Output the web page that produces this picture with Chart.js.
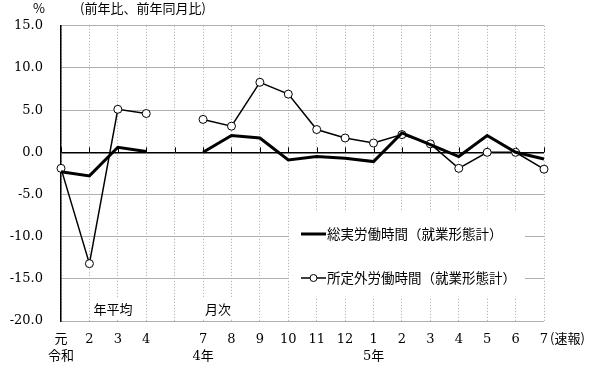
<!DOCTYPE html>
<html>
<head>
<meta charset="utf-8">
<script src="https://cdn.jsdelivr.net/npm/chart.js@4"></script>
<style>
  body { margin: 0; background: #fff; }
  #wrap { width: 591px; height: 366px; }
</style>
</head>
<body>
<div id="wrap"><canvas id="hoursChart"></canvas></div>
<script>
const categories = [['元', '令和'], '2', '3', '4', '', ['7', '4年'], '8', '9', '10', '11', '12', ['1', '5年'], '2', '3', '4', '5', '6', '7'];
const totalHours = [-2.3, -2.8, 0.6, 0.1, null, 0.0, 2.0, 1.7, -0.9, -0.5, -0.7, -1.1, 2.3, 0.9, -0.5, 2.0, 0.0, -0.8];
const overtimeHours = [-1.9, -13.2, 5.1, 4.6, null, 3.9, 3.1, 8.3, 6.9, 2.7, 1.7, 1.1, 2.1, 1.0, -1.9, 0.0, 0.0, -2.0];
const seriesNames = ['総実労働時間（就業形態計）', '所定外労働時間（就業形態計）'];

const serif = '"DejaVu Serif", "Liberation Serif", serif';
const jp = '"Noto Sans CJK JP", sans-serif';

const extras = {
    id: 'extras',
    beforeDatasetsDraw(chart) {
        const c = chart.ctx;
        const x = chart.scales.x, y = chart.scales.y;
        const y0 = y.getPixelForValue(0);
        c.save();
        // small ticks on the zero line
        c.strokeStyle = '#000';
        c.lineWidth = 1;
        for (let i = 0; i < categories.length; i++) {
            const px = Math.round(x.getPixelForValue(i)) + 0.5;
            c.beginPath();
            c.moveTo(px, y0 - 5);
            c.lineTo(px, y0);
            c.stroke();
        }
        // legend box
        c.fillStyle = '#fff';
        c.fillRect(289, 212, 236, 86);
        c.fillRect(92, 298, 42, 20);
        c.fillRect(202, 298, 32, 20);
        c.strokeStyle = '#000';
        c.lineWidth = 3;
        c.beginPath(); c.moveTo(301, 234); c.lineTo(326, 234); c.stroke();
        c.lineWidth = 1.5;
        c.beginPath(); c.moveTo(301, 278); c.lineTo(326, 278); c.stroke();
        c.fillStyle = '#fff';
        c.lineWidth = 1;
        c.beginPath(); c.arc(313.5, 278, 3.5, 0, Math.PI * 2); c.fill(); c.stroke();
        c.fillStyle = '#000';
        c.font = '13.5px ' + jp;
        c.textBaseline = 'middle';
        c.textAlign = 'left';
        c.fillText(seriesNames[0], 327, 234);
        c.fillText(seriesNames[1], 327, 278);
        c.font = '13px ' + jp;
        c.textAlign = 'center';
        c.fillText('年平均', 113, 309);
        c.fillText('月次', 218, 309);
        c.restore();
    },
    afterDraw(chart) {
        const c = chart.ctx;
        c.save();
        c.fillStyle = '#000';
        c.textBaseline = 'middle';
        c.textAlign = 'left';
        c.font = '13px ' + jp;
        c.fillText('%', 33, 8);
        c.fillText('(前年比、前年同月比)', 80, 8);
        c.fillText('(速報)', 550, 338);
        c.restore();
    }
};

new Chart(document.getElementById('hoursChart'), {
    type: 'line',
    data: {
        labels: categories,
        datasets: [{
            label: seriesNames[0],
            data: totalHours,
            borderColor: '#000',
            borderWidth: 3,
            pointRadius: 0,
            spanGaps: false,
            tension: 0
        }, {
            label: seriesNames[1],
            data: overtimeHours,
            borderColor: '#000',
            borderWidth: 1.5,
            pointRadius: 4,
            pointBackgroundColor: '#fff',
            pointBorderColor: '#000',
            pointBorderWidth: 1,
            spanGaps: false,
            tension: 0
        }]
    },
    options: {
        responsive: true,
        maintainAspectRatio: false,
        animation: false,
        layout: { padding: { left: 0, right: 47, top: 24, bottom: 0 } },
        scales: {
            x: {
                offset: false,
                grid: {
                    color: '#a8a8a8',
                    drawTicks: false
                },
                border: { display: false, dash: [1, 2] },
                ticks: {
                    color: '#000',
                    padding: 10,
                    autoSkip: false,
                    maxRotation: 0,
                    font: { family: serif + ', ' + jp, size: 13, lineHeight: 1.3 }
                },
                afterFit(s) { s.height = 45; }
            },
            y: {
                min: -20,
                max: 15,
                grid: {
                    drawTicks: false,
                    color: ctx => ctx.tick && ctx.tick.value === 0 ? '#000' : '#b0b0b0',
                    lineWidth: ctx => ctx.tick && ctx.tick.value === 0 ? 1.5 : 1
                },
                border: { color: '#000', width: 1.5 },
                ticks: {
                    stepSize: 5,
                    color: '#000',
                    padding: 18,
                    font: { family: serif, size: 13 },
                    callback: v => v.toFixed(1)
                },
                afterFit(s) { s.width = 61; }
            }
        },
        plugins: {
            legend: { display: false },
            tooltip: { enabled: false }
        }
    },
    plugins: [extras]
});
</script>
</body>
</html>
